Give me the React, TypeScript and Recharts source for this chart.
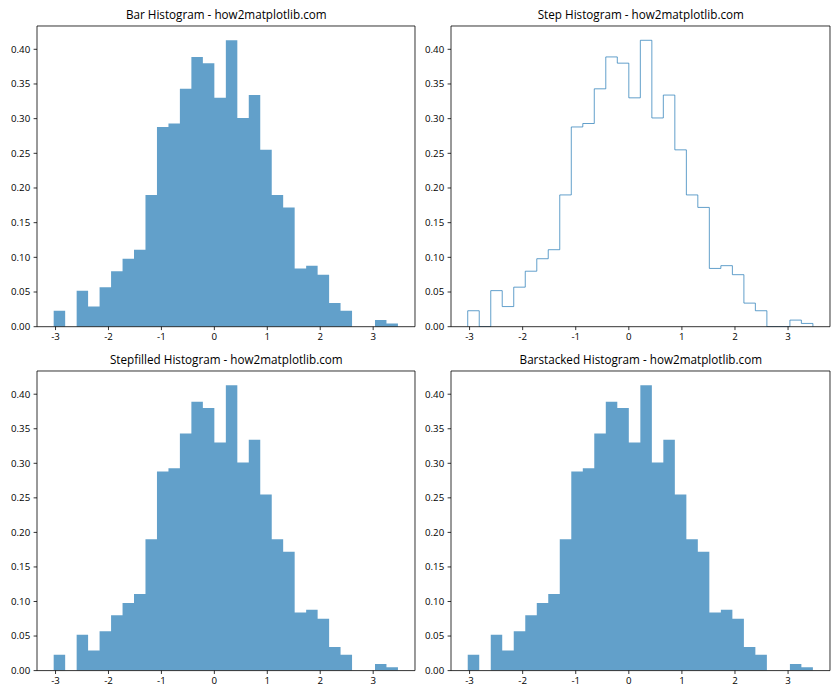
import React from "react";
import {
  ComposedChart,
  Area,
  Line,
  XAxis,
  YAxis,
  ReferenceLine,
} from "recharts";

// Histogram bin edges (31 edges -> 30 bins)
const binEdges = [
  -3.035, -2.818, -2.601, -2.385, -2.168, -1.951, -1.734, -1.518, -1.301,
  -1.084, -0.867, -0.651, -0.434, -0.217, 0.0, 0.217, 0.434, 0.65, 0.867,
  1.084, 1.3, 1.517, 1.734, 1.951, 2.168, 2.384, 2.601, 2.818, 3.035, 3.251,
  3.468,
];

// Density of each bin
const densities = [
  0.023, 0, 0.052, 0.029, 0.057, 0.08, 0.098, 0.111, 0.19, 0.288, 0.293, 0.343,
  0.389, 0.38, 0.33, 0.413, 0.301, 0.334, 0.255, 0.19, 0.172, 0.084, 0.088,
  0.075, 0.034, 0.023, 0, 0, 0.0095, 0.0047,
];

const xTicks = [-3, -2, -1, 0, 1, 2, 3];
const yTicks = [0, 0.05, 0.1, 0.15, 0.2, 0.25, 0.3, 0.35, 0.4];

const titles = [
  "Bar Histogram - how2matplotlib.com",
  "Step Histogram - how2matplotlib.com",
  "Stepfilled Histogram - how2matplotlib.com",
  "Barstacked Histogram - how2matplotlib.com",
];
const kinds = ["bar", "step", "stepfilled", "barstacked"];

const X_DOMAIN: [number, number] = [-3.35, 3.79];
const Y_DOMAIN: [number, number] = [0, 0.4336];

const stepData = [
  { x: binEdges[0], y: 0 },
  ...densities.map((d, i) => ({ x: binEdges[i], y: d })),
  { x: binEdges[binEdges.length - 1], y: 0 },
];

const FONT = "'Segoe UI', 'Open Sans', 'Noto Sans', sans-serif";
const BLUE = "#1f77b4";

const ML = 40;
const MT = 30;
const MR = 8;
const MB = 26;

function Panel({ left, top, w, h, kind }: { left: number; top: number; w: number; h: number; kind: string }) {
  const tickStyle = { fontSize: 9.7, fill: "#000", fontFamily: FONT };
  return (
    <div style={{ position: "absolute", left: left - ML, top: top - MT }}>
      <ComposedChart
        width={w + ML + MR}
        height={h + MT + MB}
        data={stepData}
        margin={{ top: MT, right: MR, bottom: 0, left: 0 }}
        style={{ fontFamily: FONT }}
      >
        <XAxis
          dataKey="x"
          type="number"
          domain={X_DOMAIN}
          ticks={xTicks}
          allowDataOverflow
          height={MB}
          tickSize={3.4}
          tickMargin={3.2}
          tick={tickStyle}
          stroke="#000"
          strokeWidth={0.8}
          tickFormatter={(v: number) => String(v)}
        />
        <YAxis
          type="number"
          domain={Y_DOMAIN}
          ticks={yTicks}
          allowDataOverflow
          width={ML}
          tickSize={3.4}
          tickMargin={3.4}
          tick={tickStyle}
          stroke="#000"
          strokeWidth={0.8}
          tickFormatter={(v: number) => v.toFixed(2)}
        />
        {kind === "step" ? (
          <Line
            type="stepAfter"
            dataKey="y"
            stroke={BLUE}
            strokeOpacity={0.7}
            strokeWidth={1}
            dot={false}
            activeDot={false}
            isAnimationActive={false}
          />
        ) : (
          <Area
            type="stepAfter"
            dataKey="y"
            stroke="none"
            fill={BLUE}
            fillOpacity={0.7}
            baseValue={0}
            dot={false}
            activeDot={false}
            isAnimationActive={false}
          />
        )}
        <ReferenceLine y={Y_DOMAIN[1]} stroke="#000" strokeWidth={0.8} ifOverflow="extendDomain" />
        <ReferenceLine x={X_DOMAIN[1]} stroke="#000" strokeWidth={0.8} ifOverflow="extendDomain" />
      </ComposedChart>
    </div>
  );
}

const panels = [
  { left: 37.3, top: 26.3, w: 378, h: 300.7 },
  { left: 451.3, top: 26.3, w: 379, h: 300.7 },
  { left: 37.3, top: 371.3, w: 378, h: 299.6 },
  { left: 451.3, top: 371.3, w: 379, h: 299.6 },
];

export default function App() {
  return (
    <div
      style={{
        position: "absolute",
        left: 0,
        top: 0,
        width: 840,
        height: 700,
        background: "#fff",
        overflow: "hidden",
      }}
    >
      {panels.map((p, i) => (
        <Panel key={i} {...p} kind={kinds[i]} />
      ))}
      <svg
        width={840}
        height={700}
        style={{ position: "absolute", left: 0, top: 0, pointerEvents: "none" }}
      >
        {panels.map((p, i) => (
          <text
            key={i}
            x={p.left + p.w / 2}
            y={p.top - 7.8}
            textAnchor="middle"
            fontFamily={FONT}
            fontSize={11.7}
            fill="#000"
          >
            {titles[i]}
          </text>
        ))}
      </svg>
    </div>
  );
}
